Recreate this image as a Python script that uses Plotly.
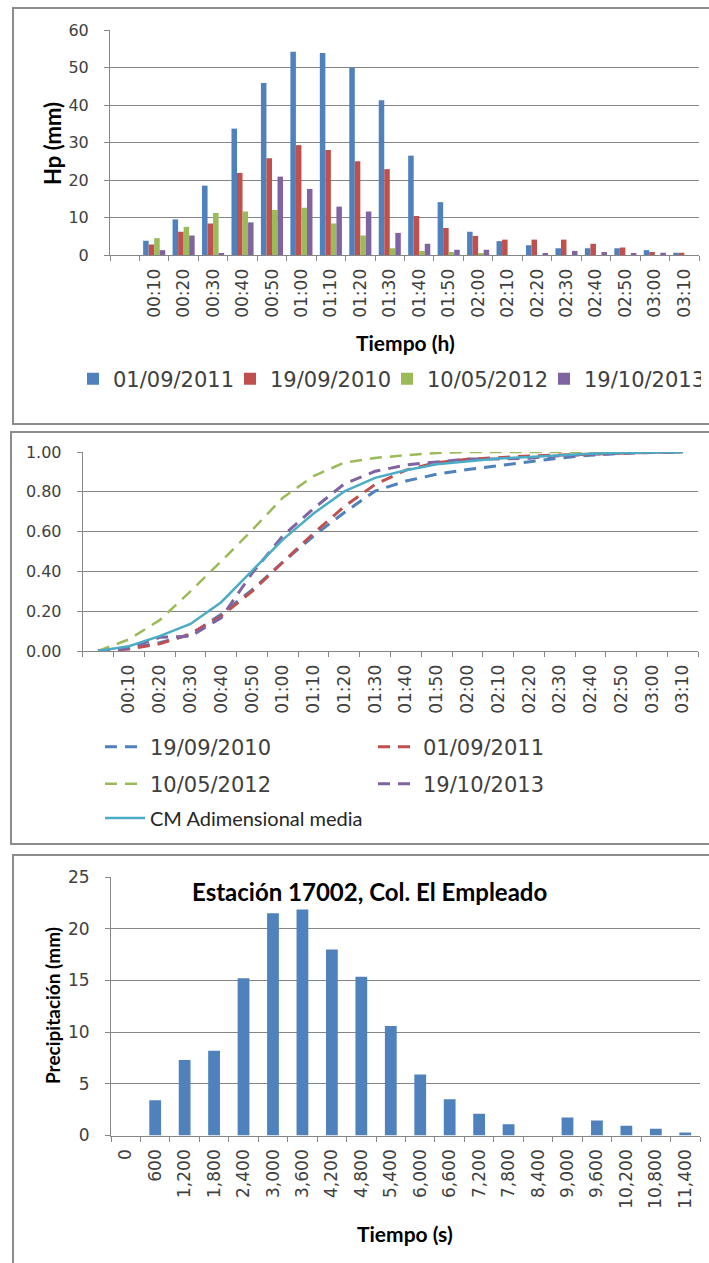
import plotly.graph_objects as go

W, H = 709, 1263

# ---- Panel 1: precipitation per 10-minute interval (mm) ----
time_labels = ["\u00a0", "00:10", "00:20", "00:30", "00:40", "00:50", "01:00", "01:10",
               "01:20", "01:30", "01:40", "01:50", "02:00", "02:10", "02:20", "02:30",
               "02:40", "02:50", "03:00", "03:10"]

hp_01_09_2011 = [0, 3.8, 9.5, 18.5, 33.7, 45.9, 54.2, 53.9, 50.0, 41.3, 26.5, 14.1,
                 6.2, 3.7, 2.6, 1.8, 1.8, 1.8, 1.3, 0.6]
hp_19_09_2010 = [0, 2.8, 6.2, 8.4, 21.9, 25.8, 29.3, 28.0, 25.0, 22.9, 10.4, 7.2,
                 5.1, 4.1, 4.1, 4.1, 3.0, 2.0, 0.8, 0.6]
hp_10_05_2012 = [0, 4.5, 7.5, 11.2, 11.6, 12.0, 12.6, 8.4, 5.2, 1.8, 1.1, 0.8,
                 0.4, 0, 0, 0, 0, 0, 0, 0]
hp_19_10_2013 = [0, 1.3, 5.2, 0.4, 8.7, 20.9, 17.6, 12.9, 11.6, 5.9, 3.0, 1.4,
                 1.4, 0, 0.4, 1.1, 0.8, 0.4, 0.6, 0]

# ---- Panel 2: dimensionless cumulative curves ----
cm_19_09_2010 = [0, 0.013, 0.042, 0.082, 0.185, 0.307, 0.446, 0.578, 0.696, 0.804, 0.854,
                 0.888, 0.912, 0.931, 0.950, 0.970, 0.984, 0.993, 0.997, 1.0]
cm_01_09_2011 = [0, 0.010, 0.036, 0.086, 0.176, 0.300, 0.446, 0.591, 0.726, 0.837, 0.909,
                 0.947, 0.963, 0.973, 0.980, 0.985, 0.990, 0.995, 0.998, 1.0]
cm_10_05_2012 = [0, 0.058, 0.155, 0.300, 0.451, 0.607, 0.770, 0.879, 0.947, 0.970, 0.984,
                 0.995, 1.0, 1.0, 1.0, 1.0, 1.0, 1.0, 1.0, 1.0]
cm_19_10_2013 = [0, 0.014, 0.069, 0.074, 0.167, 0.390, 0.578, 0.716, 0.840, 0.903, 0.935,
                 0.950, 0.965, 0.965, 0.969, 0.981, 0.989, 0.994, 1.0, 1.0]
cm_media = [0, 0.024, 0.075, 0.136, 0.245, 0.401, 0.560, 0.691, 0.802, 0.870, 0.908,
            0.938, 0.953, 0.967, 0.975, 0.984, 0.991, 0.996, 0.999, 1.0]

# ---- Panel 3: design storm, station 17002 ----
seconds_labels = ["0", "600", "1,200", "1,800", "2,400", "3,000", "3,600", "4,200",
                  "4,800", "5,400", "6,000", "6,600", "7,200", "7,800", "8,400", "9,000",
                  "9,600", "10,200", "10,800", "11,400"]
precip_17002 = [0, 3.4, 7.3, 8.2, 15.2, 21.5, 21.85, 18.0, 15.35, 10.6, 5.9, 3.5,
                2.1, 1.1, 0, 1.75, 1.45, 0.95, 0.65, 0.3]

BLUE, RED, GREEN, PURPLE, CYAN = "#4F81BD", "#C0504D", "#9BBB59", "#8064A2", "#4BACC6"
GRID = "#868686"
TICK_FONT = dict(family="DejaVu Sans", size=17, color="#404040")
TITLE_FONT = dict(family="Lato", size=21, color="#000000", weight="bold")


def px_x(px):
    return px / W


def px_y(py):
    return 1 - py / H


fig = go.Figure()

for name, vals, color in [("01/09/2011", hp_01_09_2011, BLUE),
                          ("19/09/2010", hp_19_09_2010, RED),
                          ("10/05/2012", hp_10_05_2012, GREEN),
                          ("19/10/2013", hp_19_10_2013, PURPLE)]:
    fig.add_trace(go.Bar(x=time_labels, y=vals, name=name, marker_color=color,
                         marker_line_width=0, xaxis="x", yaxis="y", legend="legend"))

line_specs = [
    ("19/09/2010", cm_19_09_2010, BLUE, "dash", 3, "legend2"),
    ("01/09/2011", cm_01_09_2011, RED, "dash", 3, "legend2"),
    ("10/05/2012", cm_10_05_2012, GREEN, "dash", 2.5, "legend3"),
    ("19/10/2013", cm_19_10_2013, PURPLE, "dash", 3, "legend3"),
    ("CM Adimensional media", cm_media, CYAN, "solid", 2.5, "legend4"),
]
for name, vals, color, dash, width, leg in line_specs:
    fig.add_trace(go.Scatter(x=time_labels, y=vals, name=name, mode="lines",
                             line=dict(color=color, width=width,
                                       dash="12px,8px" if dash == "dash" else "solid"),
                             xaxis="x2", yaxis="y2", legend=leg))

fig.add_trace(go.Bar(x=seconds_labels, y=precip_17002, marker_color=BLUE,
                     marker_line_width=0, width=0.4, offset=-0.2,
                     xaxis="x3", yaxis="y3", showlegend=False))


def cat_axis(x0, x1, labels, anchor):
    return dict(domain=[px_x(x0), px_x(x1)], anchor=anchor, type="category",
                categoryorder="array", categoryarray=labels,
                range=[-0.5, len(labels) - 0.5], tickson="boundaries",
                ticks="outside", ticklen=5, tickcolor=GRID, showline=True,
                linecolor=GRID, linewidth=1, showgrid=False, tickangle=-90,
                tickfont=TICK_FONT, ticklabelstandoff=6, fixedrange=True)


def val_axis(y_bottom, y_top, rng, dtick, anchor, fmt=None, font=TICK_FONT):
    d = dict(domain=[px_y(y_bottom), px_y(y_top)], anchor=anchor, range=rng,
             dtick=dtick, showgrid=True, gridcolor=GRID, gridwidth=1,
             ticks="outside", ticklen=5, tickcolor=GRID, showline=True,
             linecolor=GRID, linewidth=1, zeroline=False, tickfont=font,
             ticklabelstandoff=12, fixedrange=True)
    if fmt:
        d["tickformat"] = fmt
    return d


legend_common = dict(orientation="h", xanchor="left", yanchor="middle",
                     bgcolor="rgba(0,0,0,0)", borderwidth=0)
legend_font = dict(family="DejaVu Sans", size=21, color="#404040")

fig.update_layout(
    width=W, height=H, margin=dict(l=0, r=0, t=0, b=0, autoexpand=False),
    paper_bgcolor="white", plot_bgcolor="white",
    barmode="group", bargap=0.25, bargroupgap=0,
    xaxis=cat_axis(110, 699, time_labels, "y"),
    yaxis=val_axis(255, 30, [0, 60], 10, "x", font=dict(TICK_FONT, size=16)),
    xaxis2=cat_axis(82.7, 698.3, time_labels, "y2"),
    yaxis2=val_axis(651, 452, [0, 1], 0.2, "x2", fmt=".2f", font=dict(TICK_FONT, size=16)),
    xaxis3=cat_axis(111, 700, seconds_labels, "y3"),
    yaxis3=val_axis(1135.5, 877, [0, 25], 5, "x3"),
    legend=dict(legend_common, x=px_x(73), y=px_y(379), font=legend_font,
                entrywidth=112),
    legend2=dict(legend_common, x=px_x(100), y=px_y(747), font=legend_font,
                 entrywidth=218, itemwidth=40),
    legend3=dict(legend_common, x=px_x(100), y=px_y(784), font=legend_font,
                 entrywidth=218, itemwidth=40),
    legend4=dict(legend_common, x=px_x(100), y=px_y(818), itemwidth=40,
                 font=dict(family="Lato", size=20, color="#262626")),
    showlegend=True,
)

annotations = [
    dict(text="Hp (mm)", x=px_x(52), y=px_y(144), textangle=-90, font=dict(TITLE_FONT, size=22)),
    dict(text="Tiempo (h)", x=px_x(405), y=px_y(342), font=TITLE_FONT),
    dict(text="Precipitación (mm)", x=px_x(52), y=px_y(1006), textangle=-90,
         font=dict(TITLE_FONT, size=19)),
    dict(text="Tiempo (s)", x=px_x(405), y=px_y(1233), font=TITLE_FONT),
    dict(text="Estación 17002, Col. El Empleado", x=px_x(369), y=px_y(892),
         font=dict(TITLE_FONT, size=24)),
]
for a in annotations:
    a.update(xref="paper", yref="paper", xanchor="center", yanchor="middle", showarrow=False)
fig.update_layout(annotations=annotations)

# Panel frames
for x0, y_top, y_bot in [(13, 8, 424), (11, 432, 844), (13, 855, 1280)]:
    fig.add_shape(type="rect", xref="paper", yref="paper",
                  x0=px_x(x0), x1=px_x(730), y0=px_y(y_bot), y1=px_y(y_top),
                  line=dict(color="#8C8C8C", width=2), fillcolor="rgba(0,0,0,0)")

fig.write_html("out.html")
